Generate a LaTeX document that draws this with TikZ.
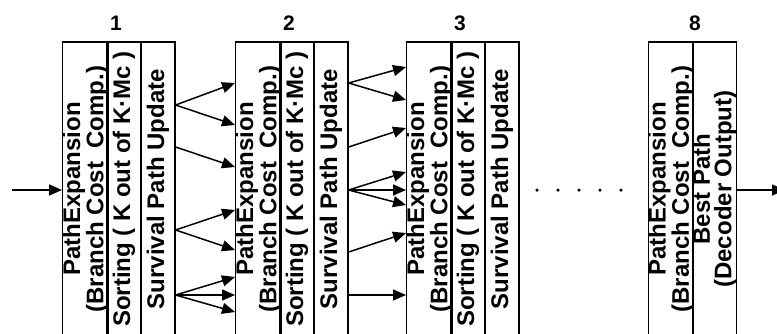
\documentclass[tikz,border=0pt]{standalone}
\usepackage{fontspec}
\setmainfont{Liberation Sans}
\usetikzlibrary{arrows.meta,positioning}
\tikzset{
  col/.style={draw, line width=1.2pt, rotate=90, minimum width=294pt, inner sep=0pt,
              align=center, font=\fontsize{24}{21.5}\selectfont\bfseries},
  arr/.style={-{Triangle[length=13pt,width=11pt]}, line width=1.5pt},
  num/.style={font=\fontsize{21}{21}\selectfont\bfseries},
  dot/.style={circle, fill, inner sep=0pt, minimum size=3.5pt},
}

\begin{document}
\begin{tikzpicture}[x=1pt, y=-1pt]
  \useasboundingbox (0,0) rectangle (777,333);
  % stages 1 to 3
  \foreach \i/\x in {1/64, 2/237, 3/408} {
    \node[col, minimum height=43pt] (pe\i) at (\x+21.5,189) {PathExpansion\\(Branch Cost\ \ Comp.)};
    \node[col, minimum height=34pt] (so\i) at (\x+60,189) {Sorting ( K out of K·Mc )};
    \node[col, minimum height=34pt] (su\i) at (\x+94,189) {Survival Path Update};
    \node[num] (n\i) at (\x+52,23) {\i};
  }
  % last stage
  \node[col, minimum height=44pt] (pe8) at (671,189) {PathExpansion\\(Branch Cost\ \ Comp.)};
  \node[col, minimum height=43pt] (bp8) at (714.5,189) {Best Path\\(Decoder Output)};
  \node[num] (n8) at (695,23) {8};
  % survivors
  \foreach \a/\b in {105/83, 105/125, 147/167, 230/210, 230/250, 295/277, 295/295, 295/312}
    \draw[arr] (su1.south |- 0,\a) -- (pe2.north |- 0,\b);
  \foreach \a/\b in {83/67, 83/100, 147/128, 190/172, 190/190, 190/205, 252/233, 295/295}
    \draw[arr] (su2.south |- 0,\a) -- (pe3.north |- 0,\b);
  \foreach \x [count=\k] in {537,558,579,600,621}
    \node[dot] (d\k) at (\x,190) {};
  % input and output
  \coordinate (in) at (12,190);
  \coordinate (out) at (785,190);
  \draw[arr] (in) -- (pe1.north |- in);
  \draw[arr] (bp8.south |- out) -- (out);
\end{tikzpicture}
\end{document}
